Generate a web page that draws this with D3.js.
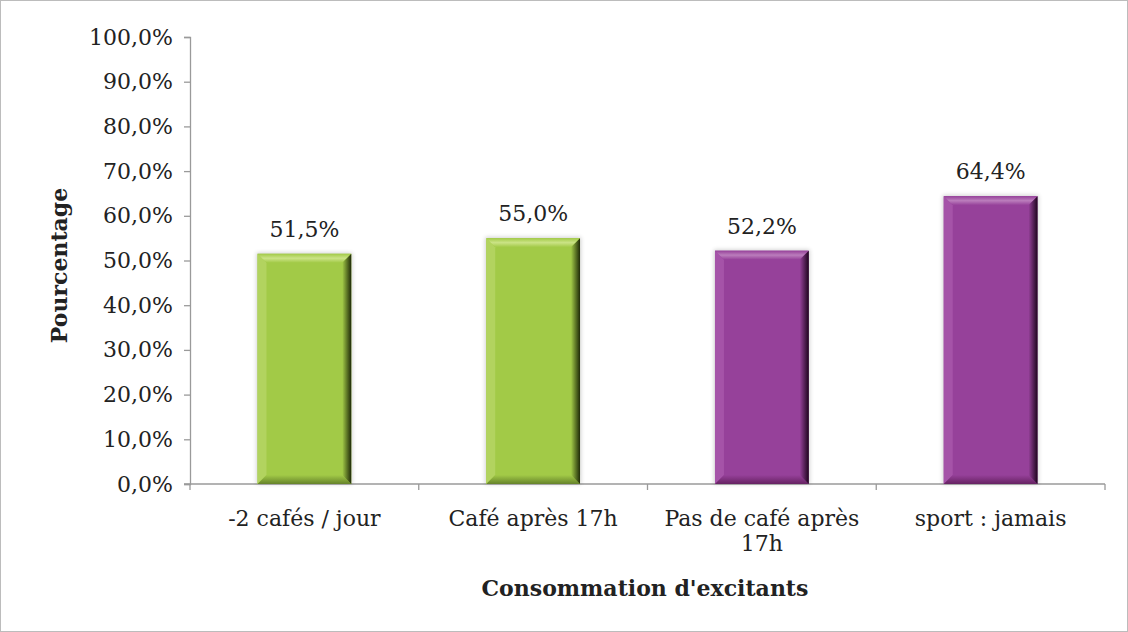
<!DOCTYPE html>
<html>
<head>
<meta charset="utf-8">
<script src="https://cdn.jsdelivr.net/npm/d3@7/dist/d3.min.js"></script>
<style>
  html, body { margin: 0; padding: 0; background: #fff; }
  svg { display: block; }
  text { font-family: "DejaVu Serif", "Liberation Serif", serif; fill: #222; }
</style>
</head>
<body>
<svg id="chart" width="1128" height="632"></svg>
<script>
// Share of respondents per stimulant-consumption group
const categories = ["-2 cafés / jour", "Café après 17h", "Pas de café après 17h", "sport : jamais"];
const categoryLines = [["-2 cafés / jour"], ["Café après 17h"], ["Pas de café après", "17h"], ["sport : jamais"]];
const values = [51.5, 55.0, 52.2, 64.4];
const barPalette = ["green", "green", "purple", "purple"];
const yTicks = [0, 10, 20, 30, 40, 50, 60, 70, 80, 90, 100];

const W = 1128, H = 632;
const margin = { left: 190, right: 23, top: 37, bottom: 148 };
const svg = d3.select("#chart");
const defs = svg.append("defs");

// outer frame
svg.append("rect").attr("x", 0.5).attr("y", 0.5).attr("width", W - 1).attr("height", H - 1)
  .attr("fill", "#fff").attr("stroke", "#bcbcbc");

const x = d3.scaleBand().domain(categories).range([margin.left, W - margin.right]).paddingInner(0).paddingOuter(0);
const y = d3.scaleLinear().domain([0, 100]).range([H - margin.bottom, margin.top]);

const fmt = v => d3.format(".1f")(v).replace(".", ",") + "%";
const axisColor = "#9a9a9a";

// y axis
const yAxis = d3.axisLeft(y).tickValues(yTicks).tickSize(6).tickSizeOuter(6).tickPadding(11).tickFormat(fmt);
const gy = svg.append("g").attr("transform", `translate(${margin.left},0)`).call(yAxis);
gy.selectAll("path, line").attr("stroke", axisColor).attr("stroke-width", 1.3);
gy.selectAll("text").attr("font-size", 22).style("fill", "#222");

// x axis with ticks at the band edges
const gx = svg.append("g").attr("transform", `translate(0,${y(0)})`);
gx.append("line").attr("x1", margin.left - 6).attr("x2", W - margin.right)
  .attr("stroke", axisColor).attr("stroke-width", 1.3);
const edges = categories.map(c => x(c)).concat([x(categories[categories.length - 1]) + x.bandwidth()]);
gx.selectAll("line.edge").data(edges).enter().append("line").attr("class", "edge")
  .attr("x1", d => d).attr("x2", d => d).attr("y1", 0).attr("y2", 6)
  .attr("stroke", axisColor).attr("stroke-width", 1.3);

const lbl = gx.selectAll("text.cat").data(categories).enter().append("text").attr("class", "cat")
  .attr("text-anchor", "middle").attr("font-size", 22)
  .attr("transform", d => `translate(${x(d) + x.bandwidth() / 2},42)`);
lbl.each(function (d, i) {
  d3.select(this).selectAll("tspan").data(categoryLines[i]).enter().append("tspan")
    .attr("x", 0).attr("dy", (t, j) => j === 0 ? 0 : 25).text(t => t);
});

// axis titles
svg.append("text").attr("text-anchor", "middle").attr("font-size", 22).attr("font-weight", "bold")
  .attr("transform", `translate(67,${(y(0) + y(100)) / 2 + 5}) rotate(-90)`).text("Pourcentage");
svg.append("text").attr("text-anchor", "middle").attr("font-size", 22).attr("font-weight", "bold")
  .attr("x", 645).attr("y", 596).text("Consommation d'excitants");

// bevelled bars
const tones = {
  green:  { face: "#a2ca47", top: "#cbe386", left: "#b2d35f", right: "#1f2a08", bottom: "#66832a" },
  purple: { face: "#96419a", top: "#bb7dbc", left: "#a553a8", right: "#1e041d", bottom: "#662262" }
};
Object.entries(tones).forEach(([k, c]) => {
  const gr = defs.append("linearGradient").attr("id", `r-${k}`).attr("x1", 0).attr("x2", 1).attr("y1", 0).attr("y2", 0);
  gr.append("stop").attr("offset", 0).attr("stop-color", c.face);
  gr.append("stop").attr("offset", 1).attr("stop-color", c.right);
  const gb = defs.append("linearGradient").attr("id", `b-${k}`).attr("x1", 0).attr("x2", 0).attr("y1", 0).attr("y2", 1);
  gb.append("stop").attr("offset", 0).attr("stop-color", c.face);
  gb.append("stop").attr("offset", 1).attr("stop-color", c.bottom);
  const gt = defs.append("linearGradient").attr("id", `t-${k}`).attr("x1", 0).attr("x2", 0).attr("y1", 0).attr("y2", 1);
  gt.append("stop").attr("offset", 0).attr("stop-color", c.face);
  gt.append("stop").attr("offset", 0.5).attr("stop-color", c.top);
  gt.append("stop").attr("offset", 1).attr("stop-color", c.face);
});
const shadow = defs.append("filter").attr("id", "soft").attr("x", -0.2).attr("y", -0.2).attr("width", 1.4).attr("height", 1.4);
shadow.append("feGaussianBlur").attr("stdDeviation", 2);

const barW = x.bandwidth() * 0.41;
const bev = 9;
const bars = svg.append("g").selectAll("g").data(values).enter().append("g");
bars.each(function (v, i) {
  const g = d3.select(this);
  const k = barPalette[i];
  const c = tones[k];
  const x0 = x(categories[i]) + (x.bandwidth() - barW) / 2, x1 = x0 + barW;
  const y0 = y(v), y1 = y(0);
  g.append("rect").attr("x", x0 - 1).attr("y", y0 - 1).attr("width", barW + 2).attr("height", y1 - y0 + 1)
    .attr("fill", "#000").attr("opacity", 0.18).attr("filter", "url(#soft)");
  g.append("rect").attr("x", x0).attr("y", y0).attr("width", barW).attr("height", y1 - y0).attr("fill", c.face);
  const poly = (pts, fill) => g.append("polygon").attr("points", pts.map(p => p.join(",")).join(" ")).attr("fill", fill);
  poly([[x0, y0], [x0 + bev, y0 + bev], [x0 + bev, y1 - bev], [x0, y1]], c.left);
  poly([[x0, y0], [x1, y0], [x1 - bev, y0 + bev], [x0 + bev, y0 + bev]], `url(#t-${k})`);
  poly([[x0, y1], [x0 + bev, y1 - bev], [x1 - bev, y1 - bev], [x1, y1]], `url(#b-${k})`);
  poly([[x1, y0], [x1, y1], [x1 - bev, y1 - bev], [x1 - bev, y0 + bev]], `url(#r-${k})`);
  g.append("text").attr("text-anchor", "middle").attr("font-size", 22)
    .attr("x", (x0 + x1) / 2).attr("y", y0 - 17).text(fmt(v));
});
</script>
</body>
</html>
